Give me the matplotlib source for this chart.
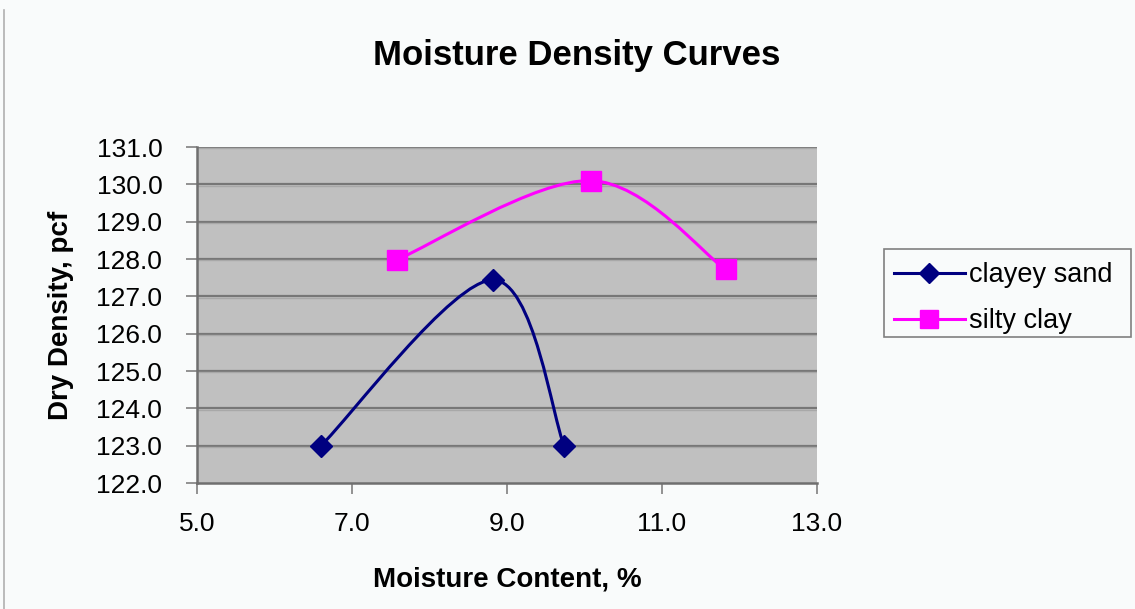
import numpy as np
import matplotlib
matplotlib.use('Agg')
import matplotlib.pyplot as plt
from matplotlib.path import Path
from matplotlib.patches import PathPatch, Rectangle
from matplotlib.lines import Line2D

plt.rcParams['font.family'] = ['Liberation Sans', 'DejaVu Sans']

# data
sand_x = [6.6, 8.82, 9.74]
sand_y = [123.0, 127.44, 122.98]
clay_x = [7.58, 10.08, 11.82]
clay_y = [127.98, 130.1, 127.72]
labels = ['clayey sand', 'silty clay']
x_ticks = [5.0, 7.0, 9.0, 11.0, 13.0]
y_ticks = [122.0, 123.0, 124.0, 125.0, 126.0, 127.0, 128.0, 129.0, 130.0, 131.0]

NAVY = '#000080'
MAGENTA = '#FF00FF'
W, H = 1135, 609


def smooth_path(xs, ys):
    # excel-like smoothed line: catmull-rom turned into cubic beziers
    p = np.column_stack([xs, ys]).astype(float)
    n = len(p)
    verts = [p[0]]
    codes = [Path.MOVETO]
    for i in range(n - 1):
        p_prev = p[i - 1] if i > 0 else p[i]
        p_next = p[i + 2] if i + 2 < n else p[i + 1]
        c1 = p[i] + (p[i + 1] - p_prev) / 6.0
        c2 = p[i + 1] - (p_next - p[i]) / 6.0
        verts += [c1, c2, p[i + 1]]
        codes += [Path.CURVE4] * 3
    return Path(verts, codes)


fig = plt.figure(figsize=(W / 100, H / 100), dpi=100, facecolor='#F9FBFB')
ax = fig.add_axes([197 / W, 1 - 483 / H, 620 / W, 336 / H])
ax.set_facecolor('#C0C0C0')

ax.set_xlim(5.0, 13.0)
ax.set_ylim(122.0, 131.0)
ax.set_xticks(x_ticks)
ax.set_yticks(y_ticks)
ax.set_xticklabels(['%.1f' % v for v in x_ticks])
ax.set_yticklabels(['%.1f' % v for v in y_ticks])
ax.tick_params(labelsize=19, length=8, width=1.2, color='#808080')
ax.tick_params(axis='x', pad=13)
ax.tick_params(axis='y', pad=17)

for v in y_ticks[1:]:
    ax.axhline(v, color='#777777', lw=1.6, zorder=1)
    ax.axhline(v - 0.035, color='#A8A8A8', lw=1.0, zorder=1)

for s in ['top', 'right']:
    ax.spines[s].set_visible(False)
for s in ['left', 'bottom']:
    ax.spines[s].set_color('#6f6f6f')
    ax.spines[s].set_linewidth(1.8)

ax.add_patch(PathPatch(smooth_path(sand_x, sand_y), fill=False,
                       edgecolor=NAVY, lw=2.2, zorder=3))
ax.add_patch(PathPatch(smooth_path(clay_x, clay_y), fill=False,
                       edgecolor=MAGENTA, lw=2.2, zorder=3))
ax.plot(sand_x, sand_y, 'D', color=NAVY, ms=11, zorder=4, clip_on=False)
ax.plot(clay_x, clay_y, 's', color=MAGENTA, ms=14, zorder=4, clip_on=False)

ax.set_xlabel('Moisture Content, %', fontsize=20, fontweight='bold', labelpad=22)
ax.set_ylabel('Dry Density, pcf', fontsize=20, fontweight='bold', labelpad=16)
fig.text(577 / W, 1 - 55 / H, 'Moisture Density Curves', fontsize=25,
         fontweight='bold', ha='center', va='center')

# legend frame drawn separately so it can be wider than its contents
fig.add_artist(Rectangle((884 / W, 1 - 337 / H), (1131 - 884) / W, 88 / H,
                         transform=fig.transFigure, facecolor='#F9FBFB',
                         edgecolor='#808080', lw=1.2))
handles = [Line2D([], [], color=NAVY, lw=2.2, marker='D', ms=10),
           Line2D([], [], color=MAGENTA, lw=2.2, marker='s', ms=13)]
leg = fig.legend(handles, labels, loc='upper left',
                 bbox_to_anchor=(886 / W, 1 - 254 / H),
                 fontsize=19.5, frameon=False,
                 handlelength=2.6, handletextpad=0.15, borderpad=0.3,
                 labelspacing=0.75, borderaxespad=0)

fig.add_artist(Line2D([4 / W, 4 / W], [0, 1 - 10 / H],
                      color='#B0B0B0', lw=1.2))

fig.savefig('out.png', dpi=100, facecolor=fig.get_facecolor())
